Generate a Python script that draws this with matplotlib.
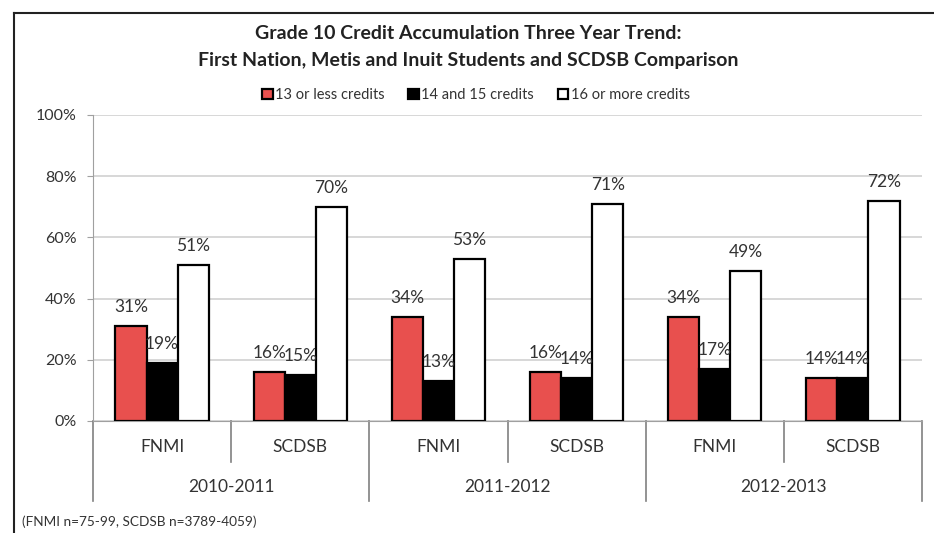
import matplotlib
matplotlib.use("Agg")
import matplotlib.pyplot as plt
from matplotlib.lines import Line2D
from matplotlib.transforms import blended_transform_factory
import numpy as np

plt.rcParams['font.family'] = ['Lato', 'DejaVu Sans']

years = ["2010-2011", "2011-2012", "2012-2013"]
groups = ["FNMI", "SCDSB"]
series_names = ["13 or less credits", "14 and 15 credits", "16 or more credits"]
low_credits = [31, 16, 34, 16, 34, 14]
mid_credits = [19, 15, 13, 14, 17, 14]
high_credits = [51, 70, 53, 71, 49, 72]
yticks = [0, 20, 40, 60, 80, 100]
footnote = "(FNMI n=75-99, SCDSB n=3789-4059)"
title = "Grade 10 Credit Accumulation Three Year Trend:\nFirst Nation, Metis and Inuit Students and SCDSB Comparison"

colors = ["#E8504E", "#000000", "#FFFFFF"]

fig = plt.figure(figsize=(9.34, 5.33), dpi=100)
ax = fig.add_axes([93/934, 1-421/533, (922-93)/934, (421-115)/533])

n = len(low_credits)
x = np.arange(n) + 0.5
w = 0.225
data = [low_credits, mid_credits, high_credits]
for i, (vals, col, name) in enumerate(zip(data, colors, series_names)):
    pos = x + (i - 1) * w
    bars = ax.bar(pos, vals, width=w, color=col, edgecolor="black", linewidth=1.6, label=name, zorder=3)
    for b, v in zip(bars, vals):
        ax.annotate(f"{v}%", (b.get_x() + b.get_width()/2, v), xytext=(0, 8),
                    textcoords="offset points", ha="center", va="bottom",
                    fontsize=12.5, color="#333333", zorder=5)

ax.set_xlim(0, n)
ax.set_ylim(0, 100)
ax.set_yticks(yticks)
ax.set_yticklabels([f"{t}%" for t in yticks], fontsize=11.5, color="#333333")
ax.set_xticks([])
ax.grid(axis="y", color="#D4D4D4", linewidth=1.3, zorder=0)
for s in ["top", "right"]:
    ax.spines[s].set_visible(False)
ax.spines["left"].set_color("#A0A0A0")
ax.spines["bottom"].set_color("#A0A0A0")
ax.tick_params(axis="y", length=4, color="#A0A0A0", pad=8)

trans = blended_transform_factory(ax.transData, ax.transAxes)
ax_h = (421-115)
short = -41/ax_h
long_ = -80/ax_h
for i in range(n + 1):
    y2 = long_ if i % 2 == 0 else short
    ax.add_line(Line2D([i, i], [0, y2], transform=trans, color="#808080", linewidth=1.2, clip_on=False))
for i in range(n):
    ax.text(i + 0.5, -26/ax_h, groups[i % 2], transform=trans, ha="center", va="center",
            fontsize=12.5, color="#333333")
for j, yr in enumerate(years):
    ax.text(2*j + 1, -66/ax_h, yr, transform=trans, ha="center", va="center",
            fontsize=12.5, color="#333333")

fig.text(468/934, 1-47/533, title, ha="center", va="center", fontsize=14,
         fontweight="bold", color="#222222", linespacing=1.65)

leg = fig.legend(loc="center", bbox_to_anchor=(476/934, 1-95/533), ncol=3, frameon=False,
                 fontsize=10.5, handlelength=0.75, handleheight=0.75, handletextpad=0.15,
                 columnspacing=1.6)
for t in leg.get_texts():
    t.set_color("#333333")

fig.text(22/934, 1-522/533, footnote, ha="left", va="center", fontsize=9.8, color="#333333")

fig.add_artist(Line2D([14/934, 14/934], [0, 1-13/533], transform=fig.transFigure, color="#222222", linewidth=1.5))
fig.add_artist(Line2D([14/934, 1], [1-13/533, 1-13/533], transform=fig.transFigure, color="#222222", linewidth=1.5))

fig.savefig("out.png", dpi=100)
